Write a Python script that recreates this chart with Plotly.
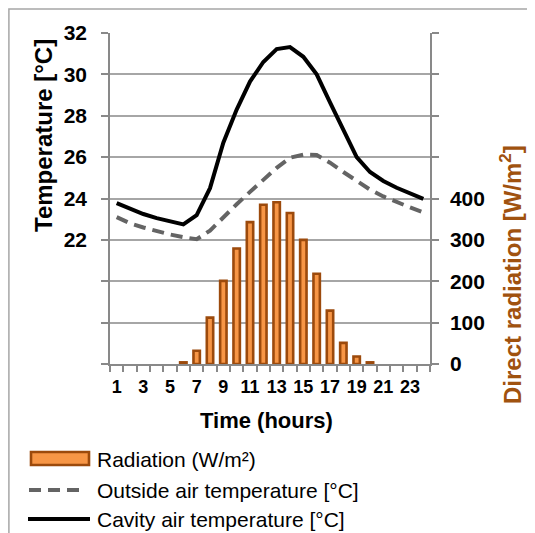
import plotly.graph_objects as go

# ---- data ----
hours = list(range(1, 25))
radiation = [0, 0, 0, 0, 0, 4, 32, 112, 201, 279, 343, 385, 391, 365, 300, 218,
             129, 51, 18, 4, 0, 0, 0, 0]
outside_temp = [23.1, 22.8, 22.6, 22.42, 22.26, 22.13, 22.03, 22.45, 23.1, 23.72,
                24.32, 24.9, 25.48, 25.97, 26.12, 26.1, 25.73, 25.28, 24.85,
                24.43, 24.1, 23.82, 23.57, 23.33]
cavity_temp = [23.78, 23.5, 23.25, 23.05, 22.88, 22.75, 23.2, 24.5, 26.7, 28.3,
               29.65, 30.6, 31.22, 31.32, 30.85, 30.0, 28.65, 27.3, 26.0, 25.28,
               24.85, 24.52, 24.23, 23.98]
x_tick_hours = list(range(1, 24, 2))
temp_ticks = list(range(16, 33, 2))
temp_labels = ["", "", "", "22", "24", "26", "28", "30", "32"]
rad_ticks = list(range(0, 801, 100))
rad_labels = ["0", "100", "200", "300", "400", "", "", "", ""]
legend_labels = ["Radiation (W/m²)", "Outside air temperature [°C]",
                 "Cavity air temperature [°C]"]

OFF = 8  # page body margin of the browser
W, H = 535 - OFF, 533 - OFF
# plot-area edges in page pixels
L, R, T, B = 110, 430, 33, 364
FONT = "Liberation Sans, Arial, sans-serif"
AXC = "#898989"
BROWN = "#9c4a0c"
ORANGE = "#f79646"


def px(x):
    return (x - L) / (R - L)


def py(y):
    return (B - y) / (B - T)


bar_line_w = [2.6 if v > 0 else 0 for v in radiation]

fig = go.Figure()
fig.add_trace(go.Bar(x=hours, y=radiation, yaxis="y", width=0.48,
                     marker=dict(color=ORANGE, line=dict(color=BROWN, width=bar_line_w)),
                     showlegend=False))
fig.add_trace(go.Scatter(x=hours, y=outside_temp, yaxis="y2", mode="lines",
                         line=dict(color="#646464", width=4, dash="12px,7px"),
                         showlegend=False))
fig.add_trace(go.Scatter(x=hours, y=cavity_temp, yaxis="y2", mode="lines",
                         line=dict(color="#000000", width=4),
                         showlegend=False))

tickfont = dict(family=FONT, size=21, color="#000", weight="bold")

shapes = [
    # outer frame
    dict(type="rect", xref="paper", yref="paper", x0=px(8.9), x1=px(545),
         y0=py(545), y1=py(8.9), line=dict(color="#a6a6a6", width=1.5)),
    # legend swatches
    dict(type="rect", xref="paper", yref="paper", x0=px(31), x1=px(89),
         y0=py(465), y1=py(452), fillcolor=ORANGE, line=dict(color=BROWN, width=2.6)),
    dict(type="line", xref="paper", yref="paper", x0=px(29), x1=px(83),
         y0=py(490), y1=py(490), line=dict(color="#646464", width=4, dash="12px,7px")),
    dict(type="line", xref="paper", yref="paper", x0=px(28), x1=px(90),
         y0=py(519), y1=py(519), line=dict(color="#000", width=4)),
]

annotations = [
    dict(text="Temperature [°C]", xref="paper", yref="paper", x=px(44), y=py(136),
         textangle=-90, showarrow=False, xanchor="center", yanchor="middle",
         font=dict(family=FONT, size=24, color="#000", weight="bold")),
    dict(text="Direct radiation [W/m<sup>2</sup>]", xref="paper", yref="paper",
         x=px(511), y=py(275), textangle=-90, showarrow=False,
         xanchor="center", yanchor="middle",
         font=dict(family=FONT, size=24, color="#a0520f", weight="bold")),
    dict(text="Time (hours)", xref="paper", yref="paper", x=px(266), y=py(420),
         showarrow=False, xanchor="center", yanchor="middle",
         font=dict(family=FONT, size=22, color="#000", weight="bold")),
]
for lbl, yy in zip(legend_labels, [459, 490, 519]):
    annotations.append(dict(text=lbl, xref="paper", yref="paper", x=px(95), y=py(yy),
                            showarrow=False, xanchor="left", yanchor="middle",
                            font=dict(family=FONT, size=21, color="#000")))

fig.update_layout(
    width=W, height=H, autosize=False,
    margin=dict(l=L - OFF, r=W - (R - OFF), t=T - OFF, b=H - (B - OFF), pad=0),
    paper_bgcolor="white", plot_bgcolor="white",
    showlegend=False, bargap=0.5,
    xaxis=dict(range=[0.5, 24.5], tickmode="array", tickvals=x_tick_hours,
               ticktext=[str(h) for h in x_tick_hours], ticks="",
               ticklabelstandoff=6,
               tickfont=dict(family=FONT, size=18, color="#000", weight="bold"),
               minor=dict(tickmode="array", tickvals=[h - 0.5 for h in range(1, 26)],
                          ticks="outside", ticklen=6, tickcolor=AXC, tickwidth=1.5,
                          showgrid=False),
               showline=True, linecolor=AXC, linewidth=1.5, showgrid=False,
               zeroline=False, fixedrange=True),
    yaxis=dict(range=[0, 800], side="right", tickmode="array", tickvals=rad_ticks,
               ticktext=rad_labels, ticks="outside", ticklen=7, tickcolor=AXC,
               tickwidth=1.5, ticklabelstandoff=7, tickfont=tickfont,
               showgrid=True, gridcolor="#a6a6a6", gridwidth=1.5,
               showline=True, linecolor=AXC, linewidth=1.5, zeroline=False),
    yaxis2=dict(range=[16, 32], side="left", overlaying="y", tickmode="array",
                tickvals=temp_ticks, ticktext=temp_labels, ticks="outside",
                ticklen=7, tickcolor=AXC, tickwidth=1.5, ticklabelstandoff=10,
                tickfont=tickfont, showgrid=False, showline=True, linecolor=AXC,
                linewidth=1.5, zeroline=False),
    shapes=shapes, annotations=annotations,
)

fig.write_html("out.html")
